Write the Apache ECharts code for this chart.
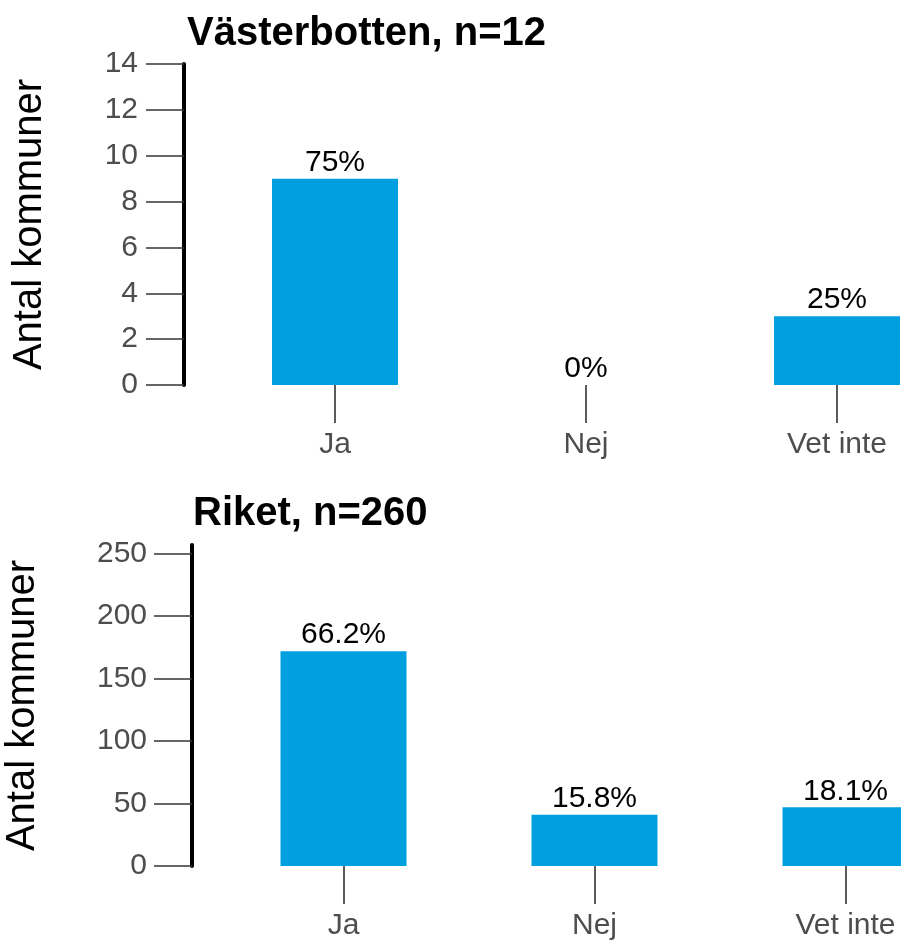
<!DOCTYPE html>
<html>
<head>
<meta charset="utf-8">
<script src="https://cdn.jsdelivr.net/npm/echarts@6/dist/echarts.min.js"></script>
<style>
html,body{margin:0;padding:0;background:#fff;}
#chart{width:901px;height:942px;}
</style>
</head>
<body>
<div id="chart"></div>
<script>
const categories = ['Ja', 'Nej', 'Vet inte'];
const topTitle = 'Västerbotten, n=12';
const topValues = [9, 0, 3];
const topPct = ['75%', '0%', '25%'];
const topTicks = [0, 2, 4, 6, 8, 10, 12, 14];
const bottomTitle = 'Riket, n=260';
const bottomValues = [172, 41, 47];
const bottomPct = ['66.2%', '15.8%', '18.1%'];
const bottomTicks = [0, 50, 100, 150, 200, 250];
const yName = 'Antal kommuner';

const FONT = '"Liberation Sans", Arial, sans-serif';
const BAR = '#009FE0';
const TICKC = '#333333';
const LABELC = '#4d4d4d';

function xAxis(gi) {
  return {
    type: 'category', gridIndex: gi, data: categories,
    axisLine: { show: false },
    axisTick: { show: true, alignWithLabel: true, length: 38, lineStyle: { color: TICKC, width: 1.6 } },
    axisLabel: { color: LABELC, fontSize: 30, fontFamily: FONT, margin: 45 },
    splitLine: { show: false }
  };
}
function yAxis(gi, max, interval, ticks, offset, nameGap, margin) {
  return {
    type: 'value', gridIndex: gi, min: 0, max: max, interval: interval, offset: offset,
    name: yName, nameLocation: 'middle', nameGap: nameGap, nameRotate: 90,
    nameTextStyle: { color: '#000', fontSize: 40, fontFamily: FONT },
    axisLine: { show: true, lineStyle: { color: '#000', width: 4 } },
    axisTick: { show: true, length: 38, customValues: ticks, lineStyle: { color: TICKC, width: 1.6 } },
    axisLabel: { color: LABELC, fontSize: 30, fontFamily: FONT, margin: margin, customValues: ticks },
    splitLine: { show: false }
  };
}
function barSeries(gi, values, pct) {
  return {
    type: 'bar', xAxisIndex: gi, yAxisIndex: gi, data: values, barWidth: 126,
    itemStyle: { color: BAR },
    label: {
      show: true, position: 'top', distance: 1, color: '#000', fontSize: 30, fontFamily: FONT,
      formatter: p => pct[p.dataIndex]
    }
  };
}

const chart = echarts.init(document.getElementById('chart'), null, { renderer: 'canvas' });
chart.setOption({
  animation: false,
  backgroundColor: '#fff',
  title: [
    { text: topTitle, left: 182, top: 9, textStyle: { fontSize: 40, fontWeight: 'bold', color: '#000', fontFamily: FONT } },
    { text: bottomTitle, left: 188, top: 489, textStyle: { fontSize: 40, fontWeight: 'bold', color: '#000', fontFamily: FONT } }
  ],
  grid: [
    { left: 209.5, top: 64, width: 753, height: 321, outerBoundsMode: 'none', containLabel: false },
    { left: 218, top: 545, width: 753, height: 321, outerBoundsMode: 'none', containLabel: false }
  ],
  xAxis: [xAxis(0), xAxis(1)],
  yAxis: [
    yAxis(0, 14, 2, topTicks, 25.5, 134, 46),
    yAxis(1, 257, 50, bottomTicks, 26, 149, 45)
  ],
  series: [barSeries(0, topValues, topPct), barSeries(1, bottomValues, bottomPct)]
});
</script>
</body>
</html>
